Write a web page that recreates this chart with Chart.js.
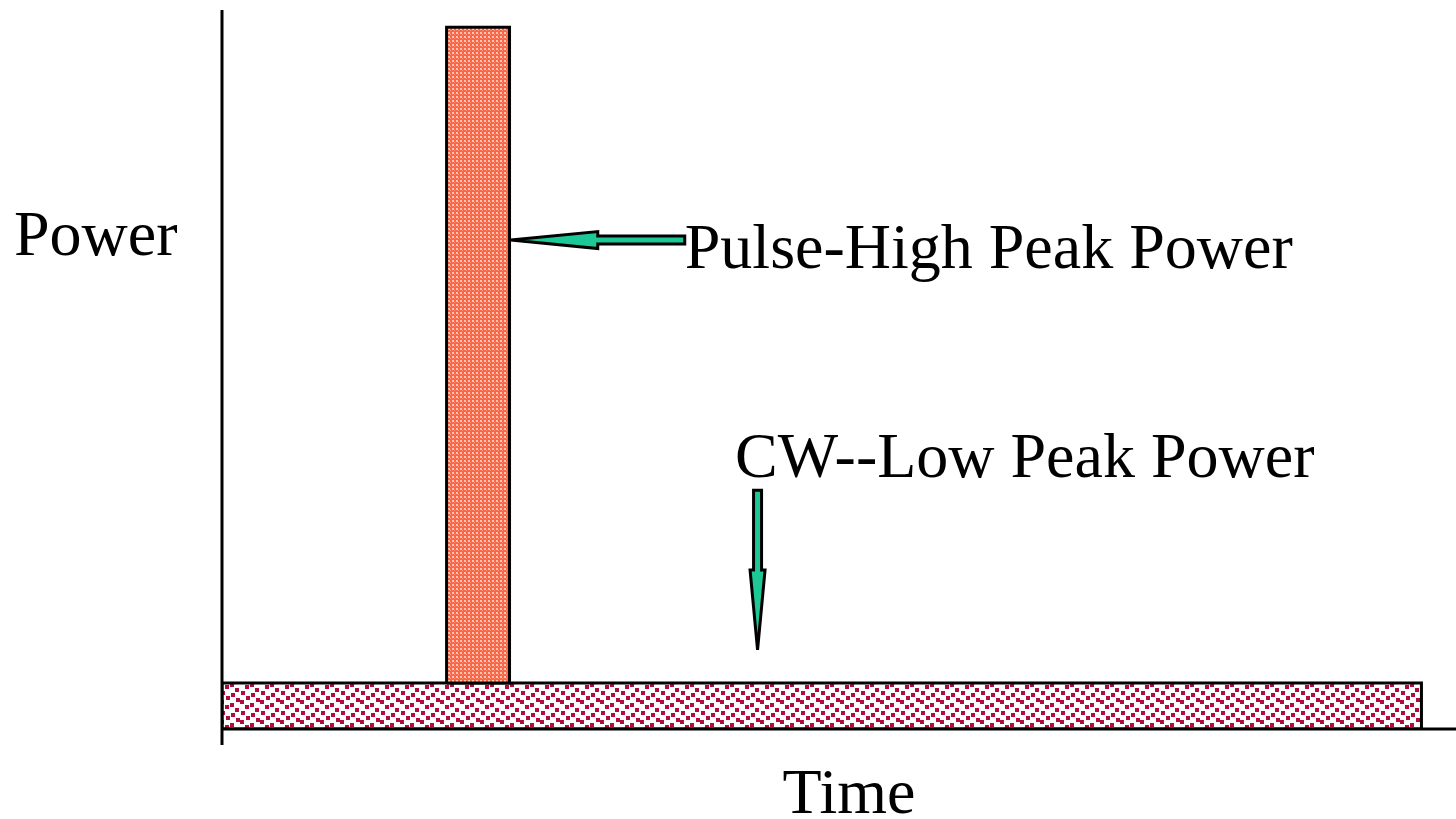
<!DOCTYPE html>
<html>
<head>
<meta charset="utf-8">
<script src="https://cdn.jsdelivr.net/npm/chart.js@4/dist/chart.umd.min.js"></script>
<style>
  html, body { margin: 0; padding: 0; background: #fff; }
  #wrap { width: 1456px; height: 819px; }
</style>
</head>
<body>
<div id="wrap"><canvas id="power-chart"></canvas></div>
<script>
// 數據 (time / power in arbitrary units)
const cwTime = [0, 97.2];
const cwPower = 6.4;
const pulseTime = [18.2, 23.3];
const pulsePower = 97.6;
const axisLabels = ['Time', 'Power'];
const noteLabels = ['Pulse-High Peak Power', 'CW--Low Peak Power'];
// arrow anchors: [tailX, tailY, tipX, tipY]
const pulseArrow = [37.5, 68.0, 23.4, 68.0];
const cwArrow = [43.4, 33.2, 43.4, 11.0];

// 圖樣填充
function makePattern(size, draw) {
    const c = document.createElement('canvas');
    c.width = size;
    c.height = size;
    const g = c.getContext('2d');
    draw(g);
    return g.createPattern(c, 'repeat');
}

const ctx = document.getElementById('power-chart').getContext('2d');

const pulseFill = makePattern(4, g => {
    g.fillStyle = '#ff6444';
    g.fillRect(0, 0, 4, 4);
    g.fillStyle = '#ffc4b2';
    g.fillRect(0, 0, 2, 2);
    g.fillStyle = '#ff9a80';
    g.fillRect(2, 2, 1, 1);
});

const cwFill = makePattern(20, g => {
    g.fillStyle = '#ffffff';
    g.fillRect(0, 0, 20, 20);
    g.fillStyle = '#b00c3c';
    [[0, 0], [10, 3], [5, 5], [15, 8], [1, 11], [11, 13], [6, 16], [16, 18]].forEach(([x, y]) => {
        for (const dx of [0, -20]) {
            for (const dy of [0, -20]) {
                g.fillRect(x + dx, y + dy, 4, 4);
            }
        }
    });
});

function rect(t0, t1, p0, p1) {
    return [
        { x: t0, y: p0 }, { x: t0, y: p1 }, { x: t1, y: p1 }, { x: t1, y: p0 }, { x: t0, y: p0 }
    ];
}

// 軸線、文字與箭頭
const decor = {
    id: 'decor',
    afterDraw(chart) {
        const c = chart.ctx;
        const xs = chart.scales.x;
        const ys = chart.scales.y;
        const area = chart.chartArea;
        c.save();

        // axes
        c.strokeStyle = '#000';
        c.lineWidth = 3;
        c.beginPath();
        c.moveTo(area.left, area.top);
        c.lineTo(area.left, ys.getPixelForValue(0) + 16);
        c.moveTo(area.left, ys.getPixelForValue(0));
        c.lineTo(area.right, ys.getPixelForValue(0));
        c.stroke();

        c.fillStyle = '#000';
        c.font = '64px "Liberation Serif", "Times New Roman", serif';
        c.textBaseline = 'alphabetic';
        c.textAlign = 'center';
        c.fillText(axisLabels[0], 849, 813);
        c.textAlign = 'left';
        c.fillText(axisLabels[1], 14, 255);
        c.fillText(noteLabels[0], xs.getPixelForValue(pulseArrow[0]), 268);
        c.fillText(noteLabels[1], 735, 477);

        // arrows
        function arrow(a, shaftHalf, headHalf, headLen) {
            const x0 = xs.getPixelForValue(a[0]), y0 = ys.getPixelForValue(a[1]);
            const x1 = xs.getPixelForValue(a[2]), y1 = ys.getPixelForValue(a[3]);
            const len = Math.hypot(x1 - x0, y1 - y0);
            const ux = (x1 - x0) / len, uy = (y1 - y0) / len;
            const nx = -uy, ny = ux;
            const bx = x1 - ux * headLen, by = y1 - uy * headLen;
            c.beginPath();
            c.moveTo(x0 + nx * shaftHalf, y0 + ny * shaftHalf);
            c.lineTo(bx + nx * shaftHalf, by + ny * shaftHalf);
            c.lineTo(bx + nx * headHalf, by + ny * headHalf);
            c.lineTo(x1, y1);
            c.lineTo(bx - nx * headHalf, by - ny * headHalf);
            c.lineTo(bx - nx * shaftHalf, by - ny * shaftHalf);
            c.lineTo(x0 - nx * shaftHalf, y0 - ny * shaftHalf);
            c.closePath();
            c.fillStyle = '#1ec896';
            c.fill();
            c.lineWidth = 3;
            c.lineJoin = 'miter';
            c.strokeStyle = '#000';
            c.stroke();
        }
        arrow(pulseArrow, 4, 8.5, 87);
        arrow(cwArrow, 4, 7.5, 80);

        c.restore();
    }
};

const chart = new Chart(ctx, {
    type: 'scatter',
    data: {
        datasets: [
            {
                label: 'Pulse',
                data: rect(pulseTime[0], pulseTime[1], cwPower, pulsePower),
                showLine: true,
                tension: 0,
                pointRadius: 0,
                borderColor: '#000',
                borderWidth: 3,
                backgroundColor: pulseFill,
                fill: 'shape'
            },
            {
                label: 'CW',
                data: rect(cwTime[0], cwTime[1], 0, cwPower),
                showLine: true,
                tension: 0,
                pointRadius: 0,
                borderColor: '#000',
                borderWidth: 3,
                backgroundColor: cwFill,
                fill: 'shape'
            }
        ]
    },
    options: {
        responsive: true,
        maintainAspectRatio: false,
        animation: false,
        layout: { padding: { left: 222, top: 10, right: 0, bottom: 90 } },
        plugins: {
            legend: { display: false },
            tooltip: { enabled: false }
        },
        scales: {
            x: { type: 'linear', min: 0, max: 100, display: false },
            y: { type: 'linear', min: 0, max: 100, display: false }
        }
    },
    plugins: [decor]
});
</script>
</body>
</html>
